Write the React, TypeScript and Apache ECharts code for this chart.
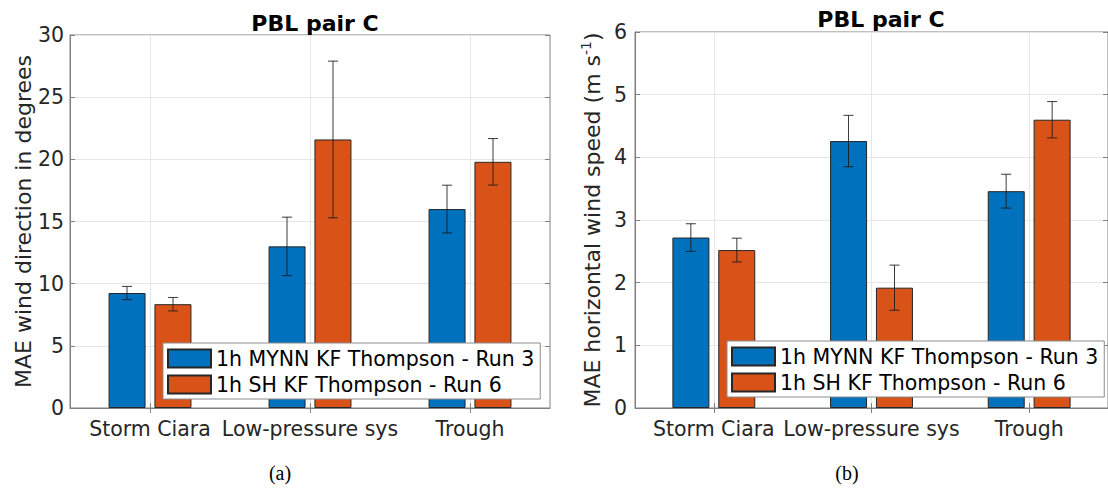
import React, { useEffect, useRef } from "react";
import * as echarts from "echarts";

const categories = ["Storm Ciara", "Low-pressure sys", "Trough"];
const seriesNames = ["1h MYNN KF Thompson - Run 3", "1h SH KF Thompson - Run 6"];

// (a) MAE wind direction (degrees)
const dirRun3 = [9.25, 13.0, 16.0];
const dirRun3Err = [0.53, 2.35, 1.92];
const dirRun6 = [8.35, 21.6, 19.8];
const dirRun6Err = [0.54, 6.3, 1.87];

// (b) MAE horizontal wind speed (m s-1)
const spdRun3 = [2.72, 4.26, 3.46];
const spdRun3Err = [0.22, 0.41, 0.27];
const spdRun6 = [2.52, 1.92, 4.6];
const spdRun6Err = [0.19, 0.36, 0.29];

const dirAxis = { min: 0, max: 30, interval: 5 };
const spdAxis = { min: 0, max: 6, interval: 1 };

const titleText = "PBL pair C";
const dirAxisName = "MAE wind direction in degrees";
const spdAxisName = "{a|MAE horizontal wind speed (m s}{s|-1}{a|)}";
const captions = ["(a)", "(b)"];

const BLUE = "#0072BD";
const ORANGE = "#D95319";
const TXT = "#262626";
const FONT = "DejaVu Sans";
const AXIS = "#808080";
const GRIDC = "#e6e6e6";

export default function App() {
  const ref = useRef<HTMLDivElement>(null);

  useEffect(() => {
    if (!ref.current) return;
    const chart = echarts.init(ref.current, null, { renderer: "svg" });

    const errSeries = (
      name: string,
      vals: number[],
      errs: number[],
      xi: number,
      offset: number
    ) => ({
      name,
      type: "custom",
      xAxisIndex: xi,
      yAxisIndex: xi,
      z: 5,
      silent: true,
      encode: { x: 0, y: 1 },
      data: vals.map((v, i) => [i, v, errs[i]]),
      renderItem: (params: any, api: any) => {
        const idx = api.value(0);
        const v = api.value(1);
        const e = api.value(2);
        const top = api.coord([idx, v + e]);
        const bot = api.coord([idx, v - e]);
        const cx = top[0] + offset;
        const hw = 5;
        const st = { stroke: "#1a1a1a", lineWidth: 1, opacity: 0.85 };
        return {
          type: "group",
          children: [
            { type: "line", shape: { x1: cx, y1: top[1], x2: cx, y2: bot[1] }, style: st },
            { type: "line", shape: { x1: cx - hw, y1: top[1], x2: cx + hw, y2: top[1] }, style: st },
            { type: "line", shape: { x1: cx - hw, y1: bot[1], x2: cx + hw, y2: bot[1] }, style: st },
          ],
        };
      },
    });

    const barSeries = (name: string, vals: number[], color: string, xi: number) => ({
      name,
      type: "bar",
      xAxisIndex: xi,
      yAxisIndex: xi,
      barWidth: 37,
      barGap: "24%",
      data: vals,
      itemStyle: { color, borderColor: "#262626", borderWidth: 1 },
    });

    const xCat = (gi: number, pos: "bottom" | "top") => ({
      type: "category",
      gridIndex: gi,
      position: pos,
      data: categories,
      boundaryGap: true,
      axisLine: { show: pos === "bottom", lineStyle: { color: AXIS } },
      axisTick: { show: true, inside: true, alignWithLabel: true, length: 5, lineStyle: { color: AXIS } },
      axisLabel: {
        show: pos === "bottom",
        interval: 0,
        fontSize: 20.5,
        color: TXT,
        fontFamily: FONT,
        margin: 10,
      },
      splitLine: { show: pos === "bottom", alignWithLabel: true, lineStyle: { color: GRIDC } },
    });

    const yVal = (gi: number, ax: any, pos: "left" | "right", name?: string, nameGap?: number, rich?: any) => ({
      type: "value",
      gridIndex: gi,
      position: pos,
      min: ax.min,
      max: ax.max,
      interval: ax.interval,
      name: pos === "left" ? name : undefined,
      nameLocation: "middle",
      nameGap,
      nameRotate: 90,
      nameTextStyle: { fontSize: 22, color: TXT, fontFamily: FONT, rich },
      axisLine: { show: pos === "left", lineStyle: { color: AXIS } },
      axisTick: { show: true, inside: true, length: 5, lineStyle: { color: AXIS } },
      axisLabel: {
        show: pos === "left",
        fontSize: 20.5,
        color: TXT,
        fontFamily: FONT,
        margin: gi === 0 ? 6 : 8,
      },
      splitLine: { show: pos === "left", lineStyle: { color: GRIDC } },
    });

    const richName = {
      a: { fontSize: 22, color: TXT, fontFamily: FONT },
      s: { fontSize: 14, color: TXT, fontFamily: FONT, padding: [0, 0, 13, 0] },
    };

    const legendCommon = {
      orient: "vertical",
      data: seriesNames,
      itemWidth: 43,
      itemHeight: 18,
      itemGap: 5,
      padding: [5, 6, 4, 4],
      backgroundColor: "#ffffff",
      borderColor: "#8c8c8c",
      borderWidth: 1,
      borderRadius: 0,
      icon: "rect",
      selectedMode: false,
      textStyle: { fontSize: 20.5, color: "#000", fontFamily: FONT },
    };

    const option: any = {
      animation: false,
      backgroundColor: "#ffffff",
      title: [
        {
          text: titleText,
          left: 310,
          top: 7,
          textAlign: "center",
          textStyle: { fontSize: 22, fontWeight: "bold", color: "#000", fontFamily: FONT },
        },
        {
          text: titleText,
          left: 876,
          top: 3,
          textAlign: "center",
          textStyle: { fontSize: 22, fontWeight: "bold", color: "#000", fontFamily: FONT },
        },
      ],
      legend: [
        { ...legendCommon, left: 163, top: 343 },
        { ...legendCommon, left: 727, top: 341 },
      ],
      grid: [
        { left: 70, top: 35, width: 480, height: 373, show: true, borderColor: AXIS, borderWidth: 1, backgroundColor: "#fff" },
        { left: 635, top: 32, width: 482, height: 376, show: true, borderColor: AXIS, borderWidth: 1, backgroundColor: "#fff" },
      ],
      xAxis: [xCat(0, "bottom"), xCat(1, "bottom"), xCat(0, "top"), xCat(1, "top")],
      yAxis: [
        yVal(0, dirAxis, "left", dirAxisName, 36),
        yVal(1, spdAxis, "left", spdAxisName, 29, richName),
        yVal(0, dirAxis, "right"),
        yVal(1, spdAxis, "right"),
      ],
      series: [
        barSeries(seriesNames[0], dirRun3, BLUE, 0),
        barSeries(seriesNames[1], dirRun6, ORANGE, 0),
        barSeries(seriesNames[0], spdRun3, BLUE, 1),
        barSeries(seriesNames[1], spdRun6, ORANGE, 1),
        errSeries("errA3", dirRun3, dirRun3Err, 0, -23),
        errSeries("errA6", dirRun6, dirRun6Err, 0, 23),
        errSeries("errB3", spdRun3, spdRun3Err, 1, -23),
        errSeries("errB6", spdRun6, spdRun6Err, 1, 23),
      ],
      graphic: [
        {
          type: "text",
          x: 280,
          y: 473,
          style: {
            text: captions[0],
            fontSize: 20,
            fontFamily: "Liberation Serif",
            fill: "#000",
            align: "center",
            verticalAlign: "middle",
          },
        },
        {
          type: "text",
          x: 847,
          y: 473,
          style: {
            text: captions[1],
            fontSize: 20,
            fontFamily: "Liberation Serif",
            fill: "#000",
            align: "center",
            verticalAlign: "middle",
          },
        },
      ],
    };

    chart.setOption(option);
    return () => chart.dispose();
  }, []);

  return (
    <div
      ref={ref}
      style={{ position: "absolute", left: 0, top: 0, width: 1108, height: 492, background: "#fff" }}
    />
  );
}
